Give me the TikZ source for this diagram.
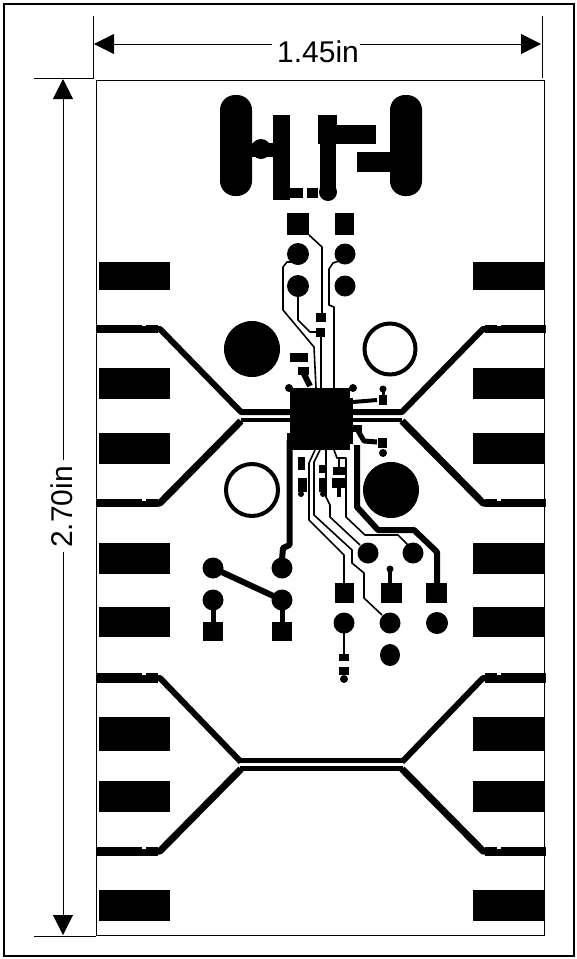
\documentclass[tikz,border=0pt]{standalone}
\usepackage{fontspec}
\setmainfont{Liberation Sans}
\usetikzlibrary{arrows.meta}
\tikzset{
  frameline/.style={line width=1.2pt,draw=black},
  thinline/.style={line width=1pt,draw=black},
  dimline/.style={line width=1pt,draw=black,-{Triangle[length=20pt,width=20pt]},shorten >=0pt},
  dimtext/.style={inner sep=0pt,font=\fontsize{30}{32}\selectfont},
  pad/.style={fill=black,draw=none},
  thin trace/.style={line width=1.6pt,draw=black,line join=round},
  wide trace/.style={line width=6pt,draw=black,line join=round},
  band/.style={line width=4.5pt,draw=black},
}
\newcommand{\rpad}[4]{\fill[pad] (#1,#2) rectangle (#3,#4);}
\newcommand{\rnd}[3]{\fill[pad] (#1,#2) circle[radius=#3];}
\begin{document}
\begin{tikzpicture}[x=1pt,y=-1pt]
\useasboundingbox (0,0) rectangle (577,959);
\draw[frameline] (4,4) rectangle (574,956);
% board and ticks
\draw[thinline] (96,80) rectangle (544,935);
\draw[thinline] (93,16) -- (93,78) -- (34,78);
\draw[thinline] (542,16) -- (542,78);
\draw[thinline] (34,936) -- (96,936);
% dimensions
\node[dimtext] (w) at (318,52) {1.45in};
\node[dimtext,rotate=90] (h) at (62,507) {2.70in};
\coordinate (wl) at (94,44); \coordinate (wr) at (541,44);
\coordinate (ht) at (63,79); \coordinate (hb) at (63,935);
\coordinate (wla) at (272,44); \coordinate (wra) at (360,44);
\coordinate (hta) at (63,460); \coordinate (hba) at (63,552);
\draw[dimline] (wla) -- (wl);
\draw[dimline] (wra) -- (wr);
\draw[dimline] (hta) -- (ht);
\draw[dimline] (hba) -- (hb);
% edge pads
\foreach \a/\b in {262/290,368/399,433/464,543/574,607/637,717/751,781/812,890/921}{
  \rpad{99}{\a}{170}{\b}
  \rpad{473}{\a}{544}{\b}
}
% edge traces: left and right mirrored
\foreach \m/\o in {1/0,-1/643}{
\begin{scope}[xshift=\o pt,xscale=\m]
  \rpad{97}{325}{142}{333}\rpad{146}{325}{158}{333}\rpad{97}{673}{142}{683}\rpad{146}{673}{158}{683}
  \rpad{97}{499}{142}{507}\rpad{146}{499}{158}{507}\rpad{97}{847}{142}{856}\rpad{146}{847}{158}{856}
  \rpad{142}{326}{146}{333}\rpad{142}{675}{146}{683}\rpad{142}{501}{146}{507}\rpad{142}{849}{146}{856}
  \draw[wide trace] (156,329) -- (160,329) -- (241,412) -- (290,412);
  \draw[wide trace,line width=7pt] (156,503) -- (160,503) -- (241,421);
  \draw[band] (241,420) -- (290,420);
  \draw[wide trace] (156,678) -- (160,678) -- (241,762);
  \draw[wide trace,line width=7pt] (156,851) -- (160,851) -- (241,769);
\end{scope}}
\draw[band,line width=5pt] (240,760.5) -- (403,760.5);
\draw[band] (240,768.5) -- (403,768.5);
% logo
\fill[pad,rounded corners=15pt] (220,95) rectangle (252,196);
\fill[pad,rounded corners=15pt] (390,95) rectangle (422,196);
\rpad{273}{115}{290}{200}
\rpad{252}{143}{273}{157}
\rnd{261}{149}{10}
\rpad{318}{115}{337}{144}
\rpad{337}{125}{376}{144}
\rpad{320}{144}{336}{190}
\rpad{357}{152}{390}{172}
\rpad{290}{188}{303}{198}
\rpad{307}{188}{318}{198}
\rnd{328}{192}{9}
% top pads
\rpad{287}{213}{309}{235}\rpad{335}{213}{354}{235}
\rnd{298}{254}{11}\rnd{345}{254}{10.5}\rnd{298}{286}{11}\rnd{345}{286}{10.5}
% holes
\rnd{252}{349}{28}\rnd{391}{490}{28}
\draw[line width=4pt] (390,349) circle[radius=25.5];
\draw[line width=4pt] (252,490) circle[radius=26];
% chip
\rpad{290}{388}{350}{450}
\rpad{287}{433}{290}{450}
\rnd{289}{388}{4}\rnd{353}{388}{4}
\rpad{350}{398}{353}{444}
% near-chip parts
\rpad{290}{353}{308}{362}\rpad{298}{367}{309}{375}
\draw[wide trace] (303,372) -- (310,386);
\draw[wide trace,line width=4pt] (353,402) -- (377,400);
\rpad{379}{395}{387}{405}\rnd{383}{389}{3.5}\draw[thin trace,line width=3pt] (383,389) -- (383,395);
\rpad{353}{425}{362}{432}
\draw[wide trace,line width=5pt] (357,429) -- (364,441) -- (377,442);
\rpad{378}{438}{387}{448}\rnd{383}{453}{4}
\rpad{298}{457}{305}{470}\rpad{298}{478}{307}{492}\rnd{301}{494}{3}
\rpad{319}{465}{327}{473}\rpad{319}{478}{327}{492}\rnd{323}{494}{3}
\rpad{333}{467}{345}{475}\rpad{332}{478}{345}{488}\rpad{337}{488}{341}{497}
% thin traces
\coordinate (ca) at (321,388);\coordinate (cb) at (316,388);\coordinate (cc) at (334,388);
\draw[thin trace] (309,235) -- (322,247) -- (322,315);
\rpad{316}{313}{326}{322}\rpad{316}{328}{325}{337}
\draw[thin trace] (321,337) -- (ca);
\draw[thin trace] (298,262) -- (287,262) -- (283,267) -- (283,310) -- (314,347) -- (cb);
\draw[thin trace] (298,286) -- (298,320) -- (310,332) -- (316,332);
\draw[thin trace] (345,259) -- (333,263) -- (329,269) -- (329,305) -- (334,307) -- (cc);
\draw[thin trace] (315,450) -- (309,463) -- (309,520) -- (344,555) -- (344,583);
\draw[thin trace] (320,450) -- (314,462) -- (314,515) -- (352,550) -- (352,563) -- (364,573) -- (364,598) -- (382,615);
\draw[thin trace] (326,450) -- (326,497) -- (330,505) -- (330,517) -- (360,545);
\draw[thin trace] (334,450) -- (337,458) -- (346,458) -- (346,517) -- (365,535) -- (398,535) -- (410,547);
\draw[thin trace,line width=2.5pt] (339,458) -- (339,467);
% wide traces
\draw[wide trace] (289.5,440) -- (289.5,545) -- (283,548) -- (282,560);
\draw[wide trace] (357,445) -- (357,507) -- (378,530) -- (414,530) -- (437,552) -- (437,585);
% lower pads
\rnd{368}{553}{10.5}\rnd{413}{553}{10.5}
\rnd{213}{568}{10.5}\rnd{282}{568}{10.5}\rnd{213}{600}{10.5}\rnd{282}{600}{10.5}
\rpad{203}{622}{223}{641}\rpad{272}{622}{292}{641}
\draw[wide trace,line width=5pt] (213,605) -- (213,625);
\draw[wide trace,line width=5pt] (282,605) -- (282,625);
\draw[wide trace] (213,568) -- (282,600);
\rpad{335}{583}{354}{603}\rpad{381}{583}{402}{603}\rpad{426}{583}{447}{603}
\draw[wide trace,line width=4pt] (390,570) -- (390,585);\rnd{390}{569}{3.5}
\rnd{344}{623}{10.5}\rnd{390}{623}{10.5}\rnd{437}{623}{11}
\fill[pad] (390,655) ellipse[x radius=10,y radius=11];
\draw[thin trace,line width=2pt] (344,625) -- (344,655);
\rpad{339}{654}{349}{661}\rpad{339}{667}{349}{675}\rnd{344}{679}{4}
\end{tikzpicture}
\end{document}
